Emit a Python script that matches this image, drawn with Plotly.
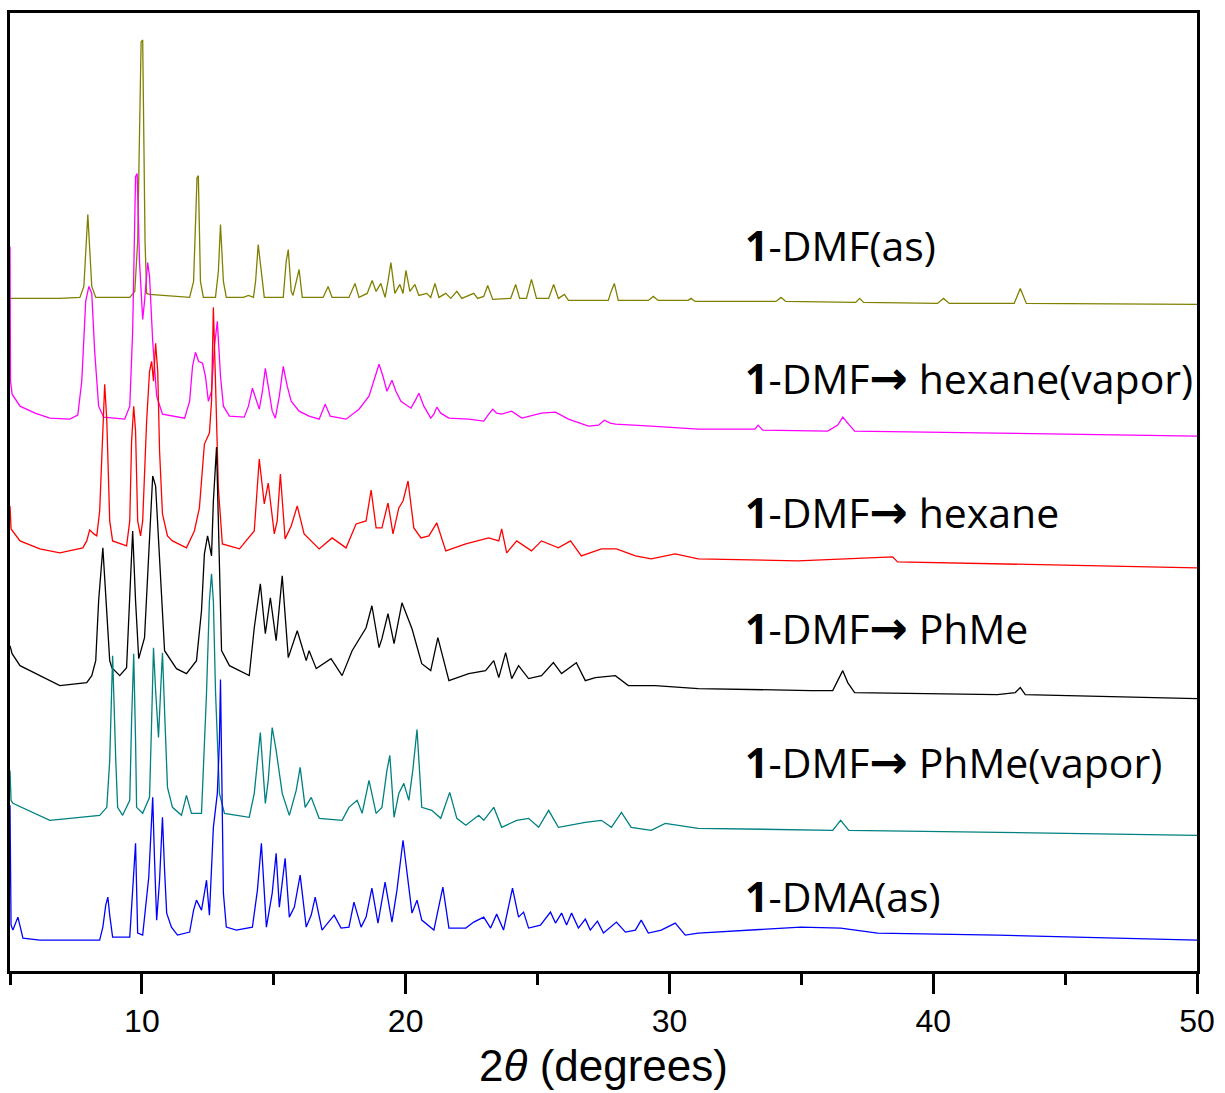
import plotly.graph_objects as go

# ---- data (x: 2theta degrees, y: stacked intensity, arbitrary units) ----
dmf_as_x = [5.00, 6.89, 7.65, 7.80, 7.95, 8.10, 8.25, 9.54, 9.73, 9.84, 9.97, 10.03, 10.12, 10.18, 10.29,
            11.81, 11.96, 12.09, 12.14, 12.22, 12.33, 12.79, 12.90, 12.98, 13.09, 13.20, 13.85, 14.04, 14.23,
            14.31, 14.41, 14.53, 14.64, 15.36, 15.47, 15.55, 15.66, 15.73, 15.85, 15.96, 16.08, 16.87, 17.06,
            17.21, 17.85, 18.08, 18.23, 18.54, 18.73, 18.88, 19.06, 19.22, 19.33, 19.44, 19.59, 19.78, 19.90,
            20.01, 20.16, 20.35, 20.50, 20.80, 20.95, 21.11, 21.26, 21.52, 21.71, 21.94, 22.13, 22.58, 22.73,
            22.96, 23.11, 23.30, 23.98, 24.17, 24.32, 24.58, 24.77, 24.96, 25.42, 25.61, 25.79, 26.02, 26.17,
            27.68, 27.79, 27.91, 28.06, 29.20, 29.39, 29.57, 30.71, 30.82, 30.97, 34.04, 34.23, 34.41, 37.06,
            37.21, 37.36, 40.16, 40.39, 40.61, 43.07, 43.30, 43.53, 50.00]
dmf_as_y = [674, 674, 675, 686, 758, 686, 675, 675, 681, 731, 931, 933, 731, 679, 678,
            675, 691, 795, 797, 691, 675, 675, 701, 748, 691, 675, 675, 677, 675,
            691, 728, 701, 675, 675, 711, 723, 681, 677, 691, 703, 675, 675, 686,
            675, 675, 689, 675, 679, 692, 681, 689, 675, 691, 710, 679, 688, 679,
            702, 681, 688, 677, 679, 675, 689, 675, 679, 674, 681, 674, 679, 674,
            676, 687, 673, 674, 688, 674, 674, 693, 674, 674, 688, 674, 678, 672,
            672, 681, 689, 672, 672, 676, 672, 672, 674, 671, 671, 675, 671, 670,
            674, 670, 669, 674, 669, 669, 684, 669, 668]

hex_vap_x = [5.00, 5.02, 5.08, 5.38, 5.95, 6.51, 7.27, 7.57, 7.72, 7.87, 7.99, 8.10, 8.21, 8.36, 8.55,
             9.35, 9.54, 9.65, 9.76, 9.82, 9.91, 10.03, 10.10, 10.22, 10.29, 10.41, 10.56, 10.78, 11.62,
             11.81, 11.92, 12.03, 12.15, 12.30, 12.41, 12.52, 12.64, 12.75, 12.86, 12.98, 13.09, 13.32,
             13.88, 14.04, 14.19, 14.30, 14.45, 14.57, 14.68, 14.79, 14.94, 15.06, 15.21, 15.36, 15.51,
             15.66, 15.96, 16.34, 16.72, 16.95, 17.14, 17.74, 18.23, 18.61, 18.84, 18.99, 19.14, 19.29,
             19.48, 19.63, 19.82, 20.20, 20.35, 20.50, 20.69, 20.95, 21.07, 21.18, 21.33, 21.64, 22.39,
             22.96, 23.15, 23.30, 23.45, 23.64, 24.02, 24.40, 25.15, 25.68, 26.17, 26.93, 27.31, 27.53,
             27.76, 27.95, 29.31, 31.09, 33.24, 33.36, 33.54, 36.00, 36.38, 36.57, 36.76, 37.02, 42.43, 50.00]
hex_vap_y = [726, 591, 578, 566, 559, 554, 553, 557, 591, 671, 686, 679, 621, 566, 555,
             553, 566, 641, 796, 799, 711, 653, 671, 710, 696, 631, 576, 558, 554,
             571, 606, 620, 611, 609, 596, 571, 581, 626, 651, 596, 566, 556,
             555, 566, 584, 576, 563, 581, 604, 586, 561, 554, 576, 606, 586,
             571, 561, 556, 553, 568, 556, 553, 563, 576, 596, 608, 596, 581,
             592, 581, 571, 564, 571, 579, 566, 554, 558, 565, 559, 554, 553,
             551, 558, 563, 559, 558, 561, 554, 559, 560, 553, 546, 547, 552,
             549, 548, 546, 543, 543, 547, 542, 541, 547, 555, 549, 541, 539, 536]

hexane_x = [5.00, 5.04, 5.38, 6.13, 6.89, 7.76, 7.91, 8.02, 8.18, 8.29, 8.40, 8.52, 8.59, 8.67, 8.78,
            8.89, 9.42, 9.54, 9.61, 9.69, 9.76, 9.84, 9.95, 10.03, 10.18, 10.29, 10.37, 10.44, 10.52,
            10.60, 10.67, 10.78, 10.97, 11.16, 11.69, 11.99, 12.18, 12.37, 12.56, 12.64, 12.71, 12.79,
            12.90, 13.05, 13.70, 14.26, 14.45, 14.64, 14.79, 15.02, 15.13, 15.25, 15.43, 15.66, 15.89,
            16.15, 16.72, 17.21, 17.74, 18.12, 18.50, 18.69, 18.88, 19.10, 19.33, 19.52, 19.74, 19.90,
            20.09, 20.31, 20.58, 20.88, 21.18, 21.52, 22.28, 23.15, 23.53, 23.64, 23.83, 24.21, 24.77,
            25.15, 25.79, 26.25, 26.66, 27.42, 27.99, 28.71, 29.31, 30.22, 31.09, 34.87, 38.46, 38.65,
            42.43, 50.00]
hexane_y = [466, 443, 431, 423, 419, 424, 431, 442, 438, 436, 461, 551, 588, 551, 451,
            431, 426, 451, 531, 566, 541, 451, 436, 451, 551, 601, 611, 591, 629,
            601, 521, 458, 436, 431, 424, 441, 464, 528, 539, 571, 665, 591,
            484, 428, 423, 441, 513, 468, 489, 438, 451, 498, 433, 446, 466,
            438, 423, 434, 424, 448, 451, 482, 444, 444, 469, 438, 464, 471,
            491, 444, 434, 436, 449, 421, 428, 434, 431, 443, 419, 431, 421,
            431, 424, 431, 416, 423, 423, 416, 413, 418, 413, 411, 415, 410,
            408, 404]

phme_x = [5.00, 5.08, 5.38, 6.13, 6.89, 7.91, 8.10, 8.25, 8.36, 8.52, 8.63, 8.78, 8.86, 9.16, 9.42,
          9.54, 9.65, 9.76, 9.88, 10.10, 10.26, 10.41, 10.52, 10.67, 10.86, 11.31, 11.69, 12.07, 12.26,
          12.37, 12.49, 12.64, 12.71, 12.83, 12.94, 13.02, 13.32, 14.07, 14.26, 14.49, 14.68, 14.87,
          15.09, 15.32, 15.55, 15.89, 16.23, 16.34, 16.61, 17.17, 17.59, 17.97, 18.50, 18.72, 18.99,
          19.10, 19.33, 19.56, 19.86, 20.24, 20.61, 20.95, 21.22, 21.64, 22.39, 23.03, 23.34, 23.53,
          23.79, 24.02, 24.28, 24.66, 25.15, 25.60, 25.91, 26.47, 26.81, 27.19, 27.95, 28.44, 29.46,
          31.09, 35.36, 36.19, 36.38, 36.57, 36.76, 37.02, 42.43, 43.11, 43.30, 43.49, 50.00]
phme_y = [326, 318, 306, 296, 286, 289, 296, 311, 371, 424, 371, 311, 304, 296, 304,
          371, 441, 371, 313, 334, 411, 496, 486, 418, 321, 303, 298, 311, 361,
          418, 436, 416, 471, 525, 411, 321, 306, 296, 344, 388, 338, 374,
          331, 396, 314, 341, 311, 321, 303, 313, 296, 321, 344, 366, 324,
          333, 358, 328, 369, 343, 308, 301, 334, 291, 298, 301, 311, 294,
          319, 293, 306, 293, 296, 309, 298, 309, 291, 294, 296, 286, 286,
          283, 281, 281, 291, 301, 289, 279, 277, 279, 284, 277, 273]

phme_vap_x = [5.00, 5.04, 5.11, 6.51, 8.40, 8.67, 8.78, 8.89, 9.01, 9.08, 9.27, 9.54, 9.61, 9.69, 9.76,
              9.80, 10.03, 10.29, 10.37, 10.44, 10.52, 10.63, 10.71, 10.78, 10.86, 10.97, 11.16, 11.50,
              11.69, 11.88, 12.26, 12.45, 12.56, 12.64, 12.71, 12.79, 12.94, 13.13, 14.07, 14.26, 14.49,
              14.68, 14.79, 14.94, 15.09, 15.32, 15.59, 15.85, 16.00, 16.19, 16.42, 16.72, 17.59, 17.85,
              18.16, 18.35, 18.61, 18.88, 19.10, 19.29, 19.40, 19.56, 19.74, 19.93, 20.12, 20.27, 20.43,
              20.61, 20.99, 21.33, 21.67, 21.94, 22.28, 22.77, 22.96, 23.34, 23.64, 24.21, 24.66, 25.04,
              25.42, 25.79, 26.81, 27.42, 27.80, 28.18, 28.55, 29.31, 29.84, 31.09, 36.19, 36.49, 36.80,
              42.43, 50.00]
phme_vap_y = [201, 171, 168, 151, 156, 164, 211, 316, 211, 164, 156, 171, 251, 318, 231,
              164, 158, 174, 251, 324, 281, 234, 281, 319, 261, 184, 164, 156,
              176, 158, 158, 278, 371, 398, 371, 281, 178, 158, 154, 178, 239,
              168, 191, 244, 221, 178, 156, 181, 204, 164, 174, 153, 151, 164,
              171, 158, 191, 158, 164, 201, 216, 154, 178, 188, 171, 201, 242,
              164, 161, 153, 179, 153, 146, 156, 151, 164, 144, 151, 153, 144,
              161, 144, 149, 151, 144, 159, 144, 141, 148, 143, 141, 151, 141,
              139, 136]

dma_as_x = [5.00, 5.04, 5.11, 5.30, 5.49, 6.13, 8.40, 8.52, 8.63, 8.71, 8.78, 8.89, 9.54, 9.65, 9.76,
            9.84, 10.03, 10.26, 10.41, 10.48, 10.56, 10.67, 10.78, 10.86, 10.94, 11.12, 11.35, 11.81,
            11.96, 12.07, 12.26, 12.37, 12.45, 12.56, 12.71, 12.86, 12.94, 12.98, 13.02, 13.09, 13.20,
            13.58, 14.19, 14.38, 14.53, 14.64, 14.72, 14.94, 15.09, 15.21, 15.32, 15.43, 15.59, 15.78,
            16.00, 16.23, 16.42, 16.57, 16.83, 17.29, 17.55, 17.85, 18.04, 18.31, 18.50, 18.72, 18.95,
            19.22, 19.48, 19.67, 19.90, 20.08, 20.24, 20.43, 20.61, 21.07, 21.41, 21.64, 22.28, 22.58,
            22.96, 23.22, 23.45, 23.71, 24.05, 24.28, 24.47, 24.66, 25.11, 25.49, 25.68, 25.91, 26.10,
            26.29, 26.55, 26.81, 27.00, 27.27, 27.50, 27.99, 28.33, 28.71, 28.93, 29.20, 29.69, 30.22,
            30.60, 31.09, 33.24, 34.98, 36.49, 37.89, 42.43, 50.00]
dma_as_y = [166, 46, 41, 54, 33, 31, 31, 44, 66, 74, 56, 34, 34, 78, 128,
            38, 36, 94, 174, 111, 51, 91, 154, 101, 58, 44, 36, 39,
            61, 71, 61, 78, 91, 56, 144, 178, 231, 292, 191, 78, 44,
            41, 44, 81, 128, 71, 44, 78, 118, 64, 91, 113, 54, 64,
            96, 44, 56, 74, 41, 56, 43, 44, 69, 44, 54, 83, 48,
            89, 49, 81, 131, 91, 58, 71, 51, 41, 84, 43, 43, 49,
            54, 43, 57, 41, 83, 54, 59, 43, 46, 59, 48, 58, 46,
            58, 43, 52, 41, 50, 38, 49, 39, 41, 51, 38, 41, 48,
            36, 38, 41, 44, 43, 38, 36, 31]

series = [
    ("1-DMF(as)", dmf_as_x, dmf_as_y, "#808000"),
    ("1-DMF→ hexane(vapor)", hex_vap_x, hex_vap_y, "#FF00FF"),
    ("1-DMF→ hexane", hexane_x, hexane_y, "#FF0000"),
    ("1-DMF→ PhMe", phme_x, phme_y, "#000000"),
    ("1-DMF→ PhMe(vapor)", phme_vap_x, phme_vap_y, "#008080"),
    ("1-DMA(as)", dma_as_x, dma_as_y, "#0000FF"),
]

ARROW = "<span style='font-family:DejaVu Sans;font-size:46px'><b>→</b></span>"
label_texts = ["<b>1</b>-DMF(as)",
               "<b>1</b>-DMF" + ARROW + " hexane(vapor)",
               "<b>1</b>-DMF" + ARROW + " hexane",
               "<b>1</b>-DMF" + ARROW + " PhMe",
               "<b>1</b>-DMF" + ARROW + " PhMe(vapor)",
               "<b>1</b>-DMA(as)"]
label_x = [32.8] * 6
label_y = [728, 594, 460, 344, 209, 75]

fig = go.Figure()
for name, xs, ys, col in series:
    fig.add_trace(go.Scatter(x=xs, y=ys, mode="lines", name=name,
                             line=dict(color=col, width=1.3), showlegend=False))

for t, lx, ly in zip(label_texts, label_x, label_y):
    fig.add_annotation(x=lx, y=ly, text=t, showarrow=False, xanchor="left", yanchor="middle",
                       font=dict(family="Open Sans", size=41, color="#000000"))

fig.update_layout(
    width=1225, height=1093,
    margin=dict(l=10, r=25, t=11, b=122),
    plot_bgcolor="white", paper_bgcolor="white",
    xaxis=dict(range=[5, 50], tickvals=[10, 20, 30, 40, 50], ticks="outside", ticklen=20,
               tickwidth=2.5, tickcolor="black", showline=True, linewidth=3, linecolor="black",
               mirror=True, showgrid=False, zeroline=False,
               minor=dict(dtick=5, tick0=5, ticks="outside", ticklen=11, tickwidth=2.5, tickcolor="black"),
               tickfont=dict(family="Liberation Sans", size=32, color="black"),
               title=dict(text="2<i>θ</i> (degrees)", font=dict(family="Liberation Sans", size=44, color="black"),
                          standoff=12)),
    yaxis=dict(range=[0, 960], showticklabels=False, ticks="", showline=True, linewidth=3,
               linecolor="black", mirror=True, showgrid=False, zeroline=False),
)

fig.write_html("out.html")
